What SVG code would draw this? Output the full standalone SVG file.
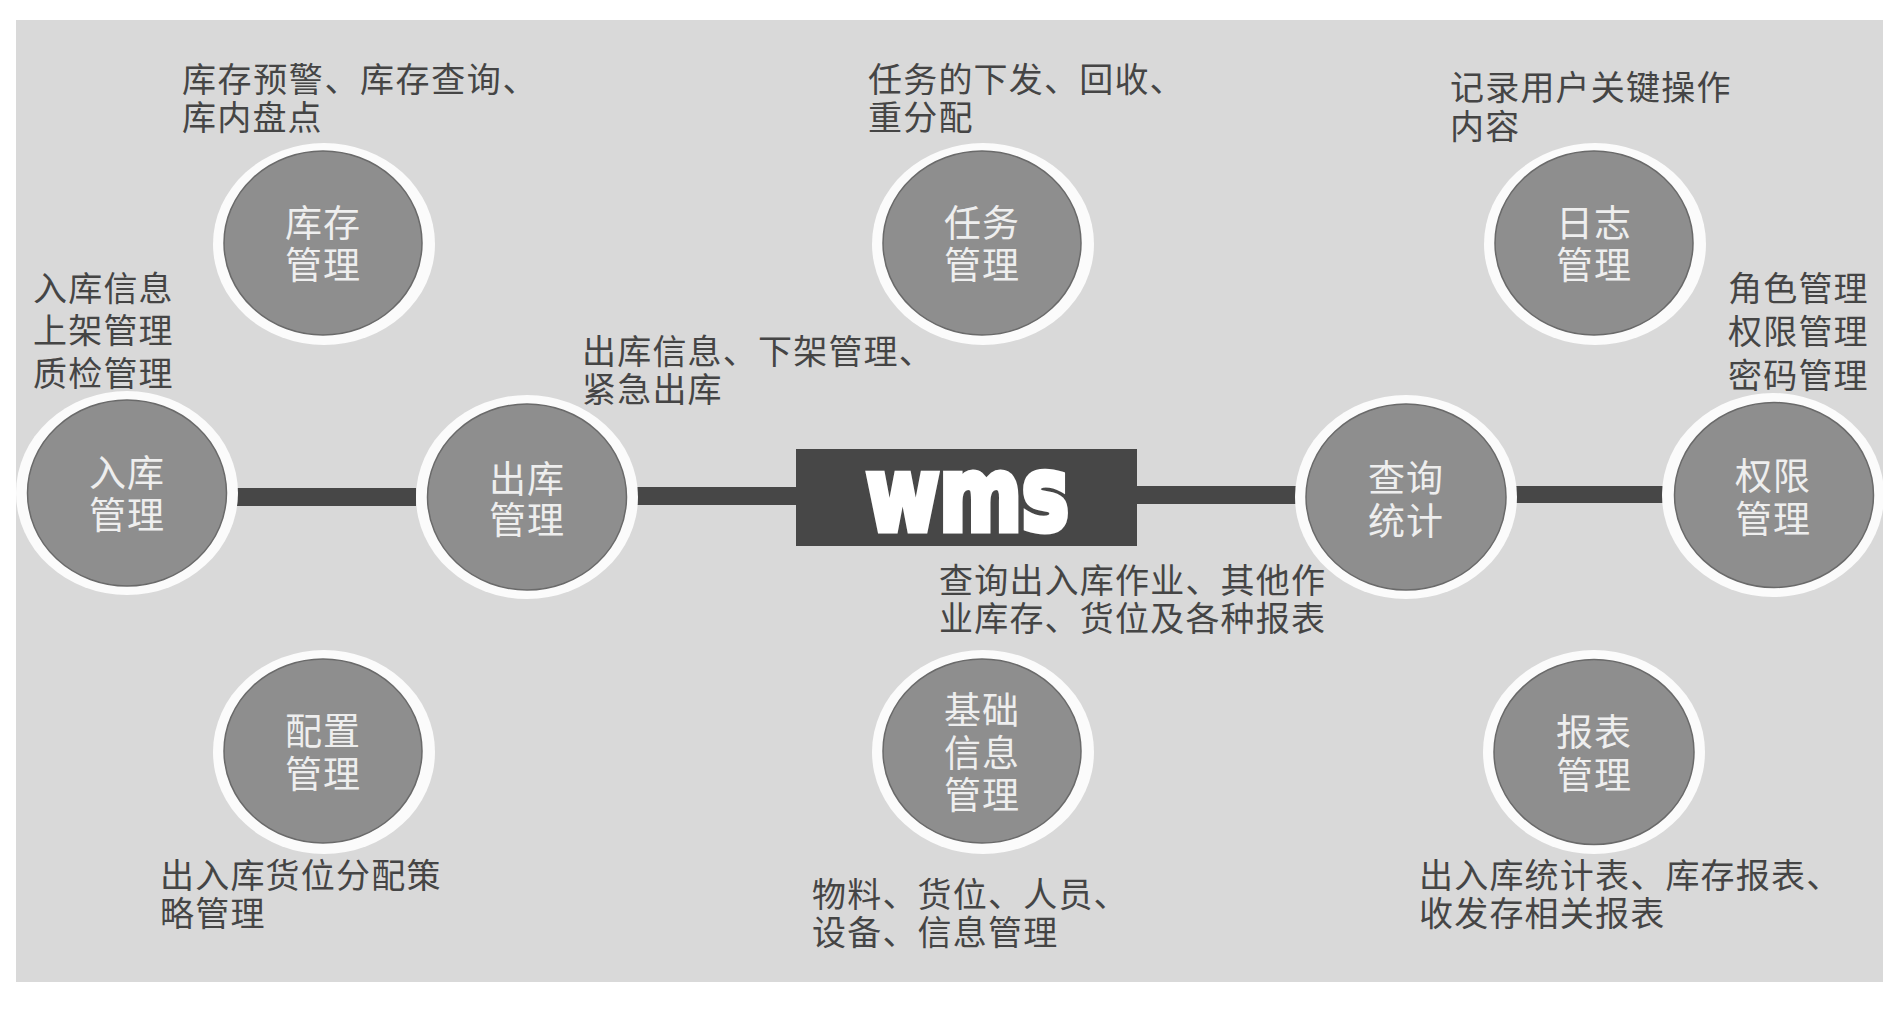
<svg xmlns="http://www.w3.org/2000/svg" width="1903" height="1009" viewBox="0 0 1903 1009">
<defs>
<style>
text{font-family:"Noto Sans CJK SC","Noto Sans CJK JP",sans-serif}
.o{fill:#fbfbfb}
.i{fill:#8e8e8e;stroke:#6a6a6a;stroke-width:1.5}
.n{font-size:37px;fill:#eeeeee;text-anchor:middle;letter-spacing:1px}
.d{font-size:34px;fill:#454545;letter-spacing:1.2px}
.b{fill:#474747}
</style>
<clipPath id="bgc"><rect x="16" y="20" width="1867" height="962"/></clipPath>
</defs>
<rect width="1903" height="1009" fill="#ffffff"/>
<rect x="16" y="20" width="1867" height="962" fill="#d9d9d9"/>
<g id="connectors">
<rect class="b" x="237" y="488" width="179" height="18"/>
<rect class="b" x="637" y="487" width="160" height="18"/>
<rect class="b" x="1136" y="486" width="160" height="18"/>
<rect class="b" x="1516" y="486" width="147" height="17"/>
</g>
<g id="wms">
<rect class="b" x="796" y="449" width="341" height="97"/>
<text x="967.5" y="530" font-size="101" font-weight="700" fill="#fff" stroke="#fff" stroke-width="7" text-anchor="middle" textLength="203" lengthAdjust="spacingAndGlyphs" style="font-family:'DejaVu Sans',sans-serif">wms</text>
</g>
<g id="node-kucun">
<ellipse class="o" cx="324" cy="244" rx="111" ry="101"/><ellipse class="i" cx="323" cy="243" rx="99" ry="92"/>
<text class="n" x="323" y="237">库存</text><text class="n" x="323" y="279">管理</text>
<text class="d" x="182" y="92" style="letter-spacing:1.6px">库存预警、库存查询、</text><text class="d" x="182" y="130">库内盘点</text>
</g>
<g id="node-renwu">
<ellipse class="o" cx="983" cy="244" rx="111" ry="101"/><ellipse class="i" cx="982" cy="243" rx="99" ry="92"/>
<text class="n" x="982" y="237">任务</text><text class="n" x="982" y="279">管理</text>
<text class="d" x="868" y="92">任务的下发、回收、</text><text class="d" x="868" y="130">重分配</text>
</g>
<g id="node-rizhi">
<ellipse class="o" cx="1595" cy="244" rx="111" ry="101"/><ellipse class="i" cx="1594" cy="243" rx="99" ry="92"/>
<text class="n" x="1594" y="237">日志</text><text class="n" x="1594" y="279">管理</text>
<text class="d" x="1450" y="100">记录用户关键操作</text><text class="d" x="1450" y="139">内容</text>
</g>
<g id="node-ruku">
<ellipse class="o" cx="127" cy="493" rx="111" ry="102"/><ellipse class="i" cx="127" cy="493" rx="99.500" ry="93"/>
<text class="n" x="127" y="487">入库</text><text class="n" x="127" y="529">管理</text>
<text class="d" x="33" y="301">入库信息</text><text class="d" x="33" y="343">上架管理</text><text class="d" x="33" y="386">质检管理</text>
</g>
<g id="node-chuku">
<ellipse class="o" cx="527" cy="497" rx="111" ry="102"/><ellipse class="i" cx="527" cy="497" rx="99.500" ry="93"/>
<text class="n" x="527" y="493">出库</text><text class="n" x="527" y="534">管理</text>
<text class="d" x="582" y="364">出库信息、下架管理、</text><text class="d" x="582" y="402">紧急出库</text>
</g>
<g id="node-chaxun">
<ellipse class="o" cx="1406" cy="497" rx="111" ry="102"/><ellipse class="i" cx="1406" cy="497" rx="100" ry="93"/>
<text class="n" x="1406" y="492">查询</text><text class="n" x="1406" y="535">统计</text>
<text class="d" x="939" y="593">查询出入库作业、其他作</text><text class="d" x="939" y="631">业库存、货位及各种报表</text>
</g>
<g id="node-quanxian">
<g clip-path="url(#bgc)"><ellipse class="o" cx="1773" cy="495" rx="111" ry="102"/></g><ellipse class="i" cx="1774" cy="495" rx="99.500" ry="92.500"/>
<text class="n" x="1773" y="490">权限</text><text class="n" x="1773" y="533">管理</text>
<text class="d" x="1728" y="301">角色管理</text><text class="d" x="1728" y="344">权限管理</text><text class="d" x="1728" y="388">密码管理</text>
</g>
<g id="node-peizhi">
<ellipse class="o" cx="324" cy="752" rx="111" ry="102"/><ellipse class="i" cx="323" cy="751" rx="99" ry="92"/>
<text class="n" x="323" y="745">配置</text><text class="n" x="323" y="788">管理</text>
<text class="d" x="160" y="888">出入库货位分配策</text><text class="d" x="160" y="926">略管理</text>
</g>
<g id="node-jichu">
<ellipse class="o" cx="983" cy="752" rx="111" ry="102"/><ellipse class="i" cx="982" cy="751" rx="99" ry="92"/>
<text class="n" x="982" y="724">基础</text><text class="n" x="982" y="767">信息</text><text class="n" x="982" y="809">管理</text>
<text class="d" x="812" y="907">物料、货位、人员、</text><text class="d" x="812" y="945">设备、信息管理</text>
</g>
<g id="node-baobiao">
<ellipse class="o" cx="1594" cy="752" rx="111" ry="102"/><ellipse class="i" cx="1594" cy="752" rx="100" ry="92.500"/>
<text class="n" x="1594" y="746">报表</text><text class="n" x="1594" y="789">管理</text>
<text class="d" x="1419" y="888">出入库统计表、库存报表、</text><text class="d" x="1419" y="926">收发存相关报表</text>
</g>
</svg>
